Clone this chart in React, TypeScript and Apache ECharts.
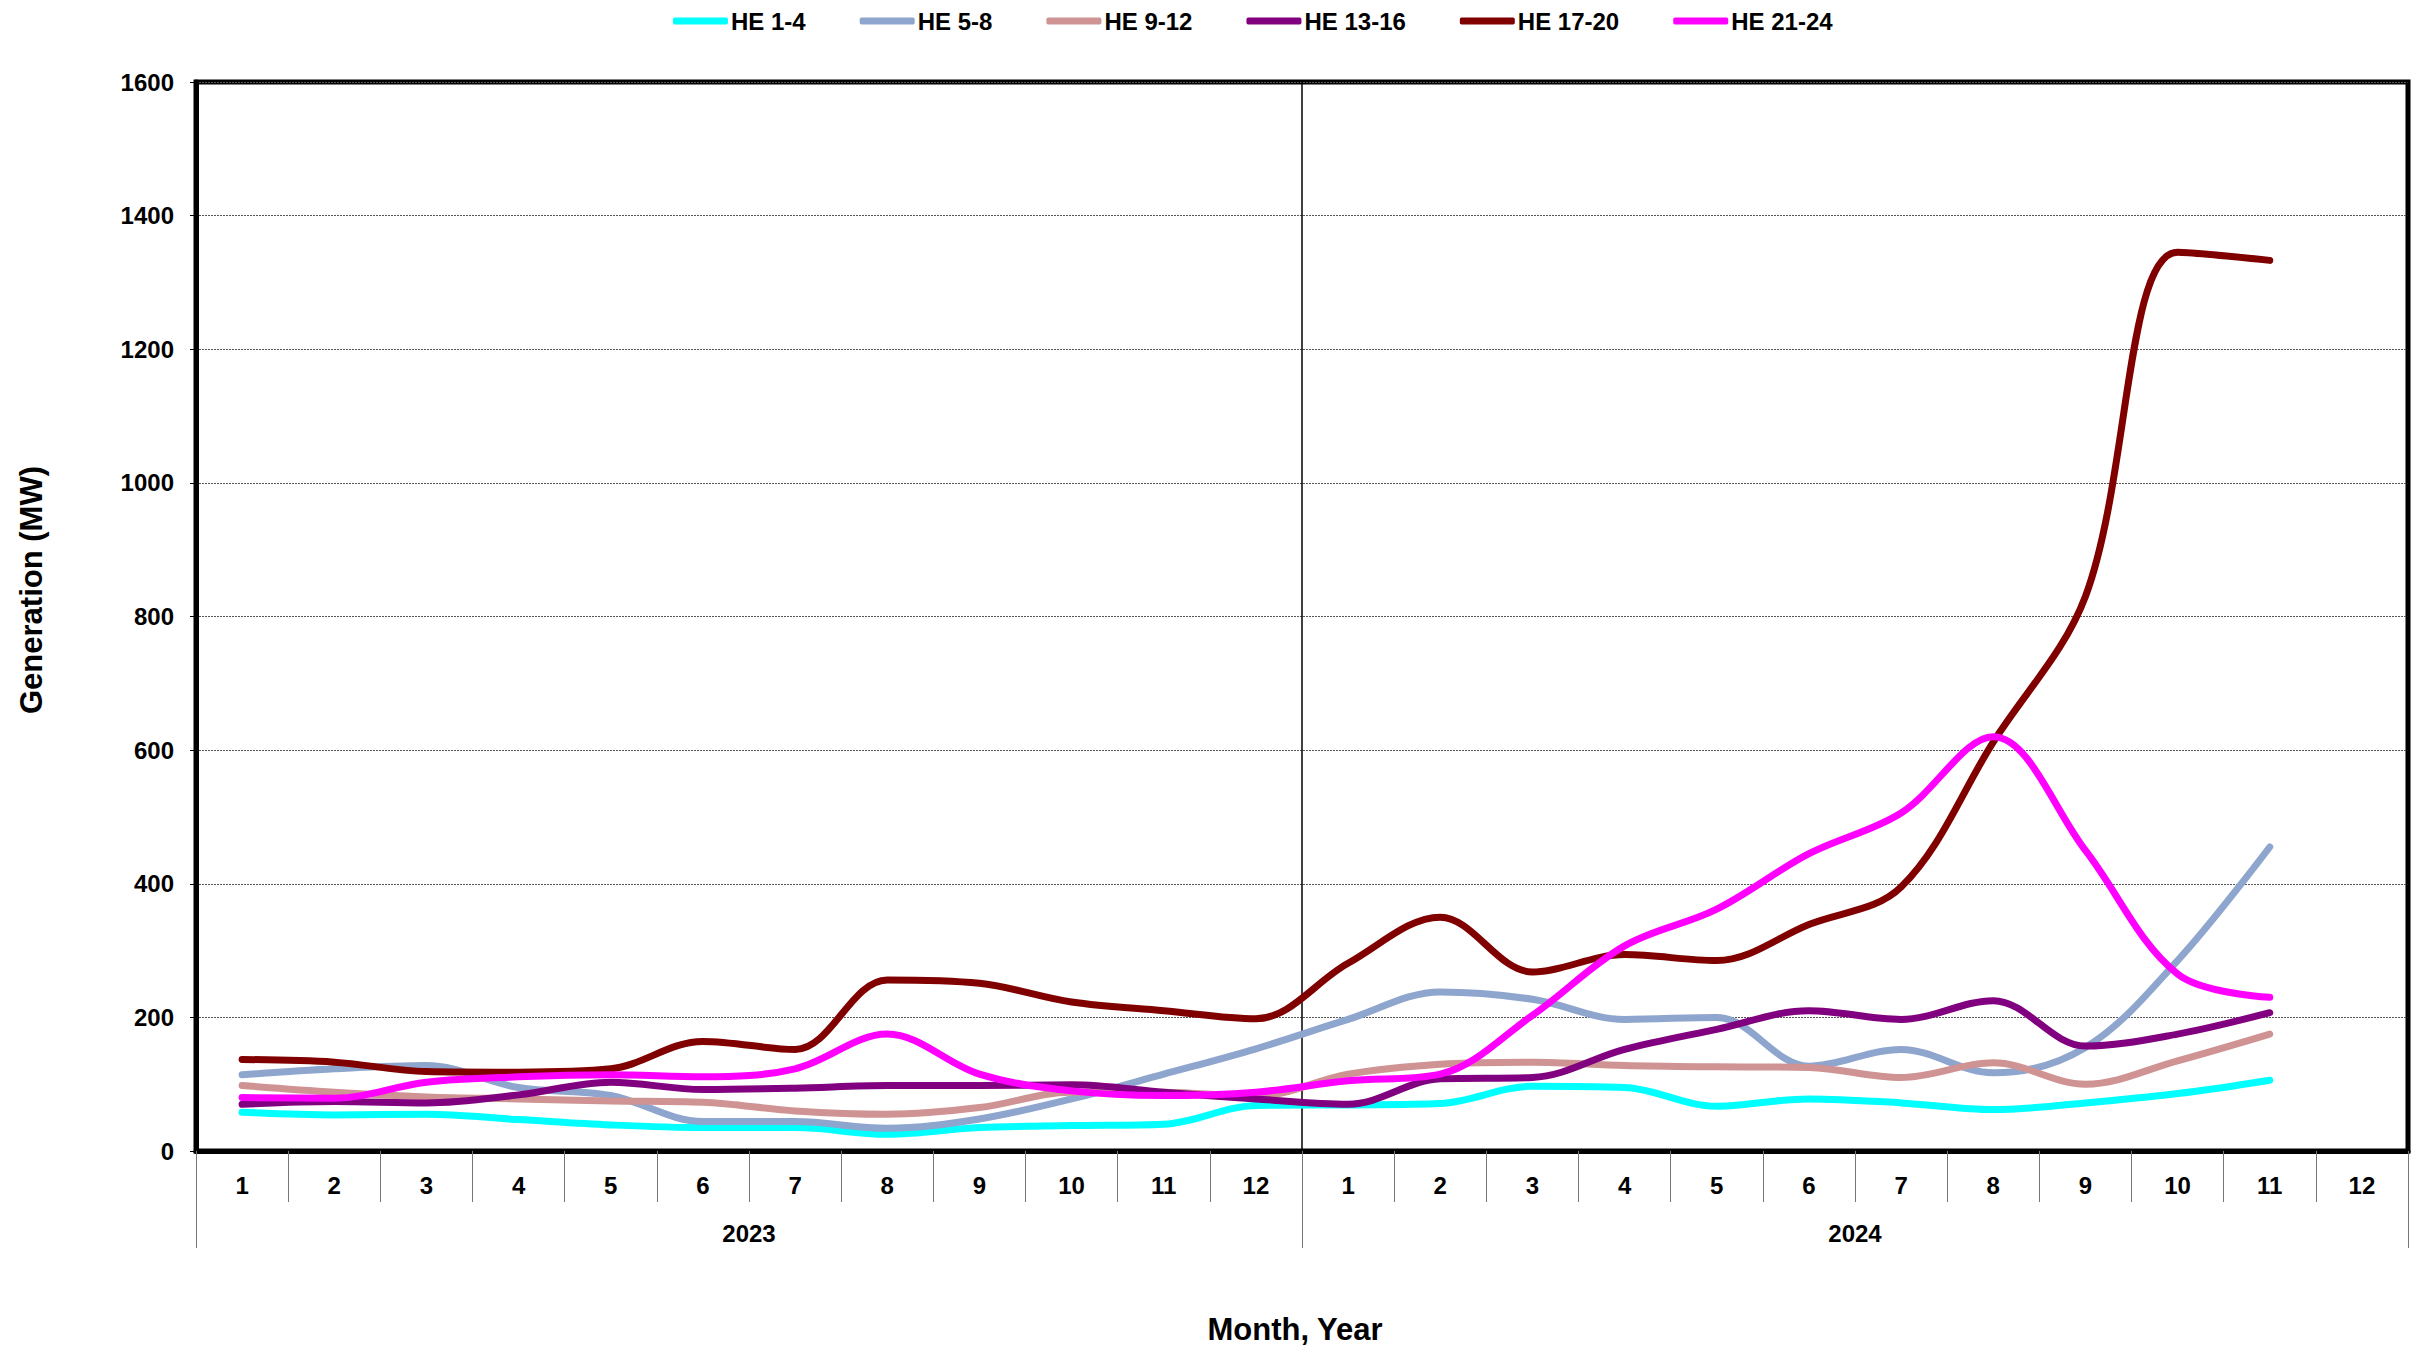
import React, { useEffect, useRef } from "react";
import * as echarts from "echarts";

const months = ["1","2","3","4","5","6","7","8","9","10","11","12","1","2","3","4","5","6","7","8","9","10","11","12"];
const years = ["2023", "2024"];
const yTicks = [0, 1600, 200]; // min, max, interval

const seriesNames = ["HE 1-4", "HE 5-8", "HE 9-12", "HE 13-16", "HE 17-20", "HE 21-24"];
const seriesColors = ["#00FFFF", "#8EA5CE", "#D09393", "#800080", "#800000", "#FF00FF"];

const he1_4 = [58, 54, 55, 47, 39, 35, 35, 25, 35, 38, 40, 68, 69, 71, 97, 95, 67, 78, 72, 62, 72, 86, 106];
const he5_8 = [114, 123, 128, 95, 83, 44, 44, 34, 48, 78, 115, 153, 197, 238, 227, 197, 200, 127, 152, 117, 155, 285, 455];
const he9_12 = [98, 88, 81, 78, 75, 73, 60, 55, 65, 88, 88, 82, 115, 130, 133, 128, 126, 125, 110, 132, 100, 135, 175];
const he13_16 = [70, 74, 72, 84, 103, 92, 94, 98, 98, 99, 88, 78, 70, 108, 110, 152, 182, 210, 197, 225, 157, 175, 207];
const he17_20 = [137, 133, 119, 118, 123, 164, 152, 256, 251, 223, 210, 198, 281, 350, 268, 294, 285, 339, 395, 612, 830, 1345, 1333];
const he21_24 = [80, 79, 103, 111, 114, 111, 123, 175, 115, 90, 83, 88, 105, 115, 203, 307, 362, 445, 506, 620, 450, 265, 230];

const seriesData = [he1_4, he5_8, he9_12, he13_16, he17_20, he21_24];

const FONT = '"Liberation Sans", Arial, sans-serif';

export default function App() {
  const ref = useRef<HTMLDivElement>(null);
  useEffect(() => {
    if (!ref.current) return;
    const chart = echarts.init(ref.current, null, { renderer: "svg" });
    const option: any = {
      animation: false,
      backgroundColor: "#ffffff",
      textStyle: { fontFamily: FONT },
      legend: {
        top: 4,
        left: 668,
        itemWidth: 55,
        itemHeight: 7,
        itemGap: 54,
        icon: "roundRect",
        textStyle: { fontFamily: FONT, fontWeight: "bold", fontSize: 24, color: "#000", padding: [0, 0, 0, -2] },
        data: seriesNames,
      },
      grid: {
        left: 196,
        right: 9,
        top: 82,
        bottom: 201,
        show: true,
        borderColor: "#000",
        borderWidth: 5,
        backgroundColor: "transparent",
      },
      xAxis: [
        {
          type: "category",
          data: months,
          boundaryGap: true,
          position: "bottom",
          axisLine: { show: true, lineStyle: { color: "#000", width: 5 } },
          axisTick: { show: true, alignWithLabel: false, interval: 0, length: 51, lineStyle: { color: "#777", width: 1 } },
          axisLabel: { interval: 0, margin: 22, fontSize: 24, fontWeight: "bold", color: "#000", fontFamily: FONT },
          splitLine: { show: false },
        },
        {
          type: "category",
          data: years,
          boundaryGap: true,
          position: "bottom",
          axisLine: { show: false },
          axisTick: { show: true, alignWithLabel: false, interval: 0, length: 97, lineStyle: { color: "#777", width: 1 } },
          axisLabel: { interval: 0, margin: 70, fontSize: 24, fontWeight: "bold", color: "#000", fontFamily: FONT },
          splitLine: { show: true, interval: 0, lineStyle: { color: "#000", width: 1.5 } },
        },
      ],
      yAxis: {
        type: "value",
        min: yTicks[0],
        max: yTicks[1],
        interval: yTicks[2],
        axisLine: { show: true, lineStyle: { color: "#000", width: 5 } },
        axisTick: { show: true, length: 6, lineStyle: { color: "#000", width: 1 } },
        axisLabel: {
          margin: 22,
          fontSize: 24,
          fontWeight: "bold",
          color: "#000",
          fontFamily: FONT,
          formatter: (v: number) => String(v),
        },
        splitLine: { show: true, lineStyle: { color: "#555", width: 1, type: [2, 1] } },
      },
      graphic: [
        {
          type: "text",
          x: 31,
          y: 590,
          rotation: Math.PI / 2,
          style: {
            text: "Generation (MW)",
            fontFamily: FONT,
            fontWeight: "bold",
            fontSize: 31,
            fill: "#000",
            textAlign: "center",
            textVerticalAlign: "middle",
          },
        },
        {
          type: "text",
          x: 1295,
          y: 1329,
          style: {
            text: "Month, Year",
            fontFamily: FONT,
            fontWeight: "bold",
            fontSize: 31,
            fill: "#000",
            textAlign: "center",
            textVerticalAlign: "middle",
          },
        },
      ],
      series: seriesNames.map((name, i) => ({
        name,
        type: "line",
        xAxisIndex: 0,
        data: seriesData[i],
        smooth: 0.35,
        symbol: "none",
        showSymbol: false,
        color: seriesColors[i],
        lineStyle: { color: seriesColors[i], width: 7, cap: "round", join: "round" },
        z: 2 + i,
      })),
    };
    chart.setOption(option);
    return () => chart.dispose();
  }, []);
  return (
    <div
      ref={ref}
      style={{ position: "absolute", left: 0, top: 0, width: 2417, height: 1352 }}
    />
  );
}
